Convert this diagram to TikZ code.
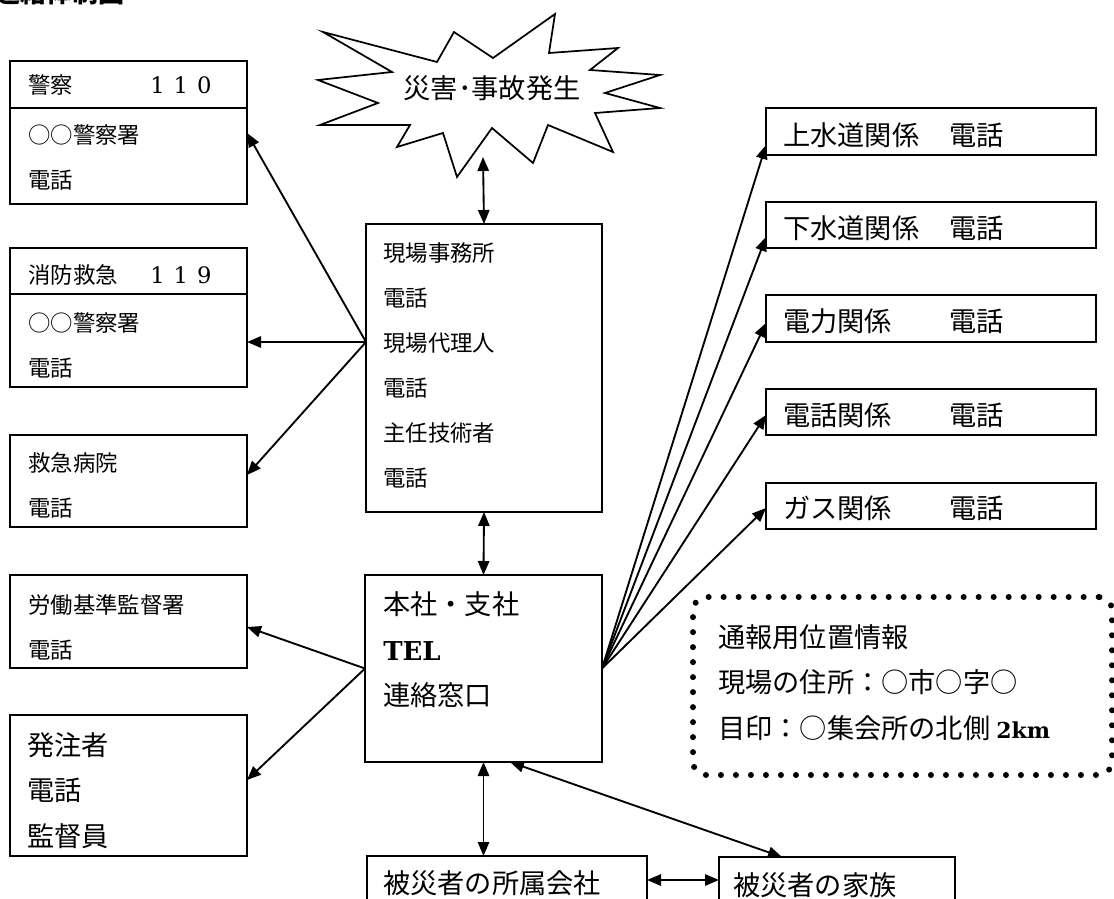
\documentclass[tikz,border=0pt]{standalone}
\usepackage{fontspec}
\usetikzlibrary{arrows.meta}
\newfontfamily\jp{Noto Sans CJK JP}
\newfontfamily\ser{DejaVu Serif}
\newlength\pxl \setlength\pxl{0.75pt}
\newcommand\jpS{\jp\fontsize{16.8pt}{33.75pt}\selectfont}
\newcommand\jpL{\jp\fontsize{20.4pt}{34.2pt}\selectfont}
\newcommand\digs[3]{{\ser\fontsize{17pt}{33.75pt}\selectfont #1\hspace{9\pxl}#2\hspace{9\pxl}#3}}
\begin{document}
\begin{tikzpicture}[x=0.75pt, y=-0.75pt,
  box/.style={draw, line width=1.5pt, anchor=north west, inner sep=0pt, outer sep=0pt},
  txt/.style={anchor=west, inner sep=0pt, align=left},
  arr/.style={-{Triangle[length=10.5pt,width=8.5pt]}, line width=1.4pt},
  darr/.style={{Triangle[length=10.5pt,width=8.5pt]}-{Triangle[length=10.5pt,width=8.5pt]}, line width=1.4pt},
  dots/.style={draw, line width=4.5pt, line cap=round, dash pattern=on 0pt off 11.25pt, rounded corners=10pt, anchor=north west, inner sep=0pt, outer sep=0pt}]
\useasboundingbox (0,0) rectangle (1114,899);
\clip (0,0) rectangle (1114,899);

% title (cut off at the top, as in the original)
\node[anchor=base west, inner sep=0pt] (title) at (-6,3) {\jp\bfseries\fontsize{19.5pt}{20pt}\selectfont 連絡体制図};

% star
\draw[line width=1.3pt, line join=miter] (323,32) -- (437,62) -- (454,32) -- (493,58) -- (555,14) -- (549,53)
  -- (618,48) -- (590,70) -- (660,75) -- (605,93) -- (660,108) -- (595,113) -- (613,152)
  -- (548,125) -- (533,163) -- (492,128) -- (457,177) -- (443,133) -- (397,147) -- (410,125)
  -- (320,125) -- (378,103) -- (318,80) -- (392,72) -- cycle;
\node[inner sep=0pt] (disaster) at (492,88) {\jpL 災害･事故発生};
\coordinate (starB) at (483,157);

% left boxes
\node[box, minimum width=237\pxl, minimum height=47\pxl] (policeH) at (10,61) {};
\node[box, minimum width=237\pxl, minimum height=96\pxl] (policeB) at (10,108) {};
\node[txt, font=\jpS] (policeHt) at (28,85) {\makebox[122\pxl][l]{警察}\digs110};
\node[txt, font=\jpS] (policeBt) at (28,157.5) {○○警察署\\電話};

\node[box, minimum width=237\pxl, minimum height=46\pxl] (shoboH) at (10,248) {};
\node[box, minimum width=237\pxl, minimum height=93\pxl] (shoboB) at (10,294) {};
\node[txt, font=\jpS] (shoboHt) at (28,275) {\makebox[122\pxl][l]{消防救急}\digs119};
\node[txt, font=\jpS] (shoboBt) at (28,345.5) {○○警察署\\電話};

\node[box, minimum width=237\pxl, minimum height=92\pxl] (kyukyu) at (10,435) {};
\node[txt, font=\jpS] (kyukyut) at (28,485.5) {救急病院\\電話};

\node[box, minimum width=237\pxl, minimum height=93\pxl] (roudou) at (10,575) {};
\node[txt, font=\jpS] (roudout) at (28,627.5) {労働基準監督署\\電話};

\node[box, minimum width=237\pxl, minimum height=141\pxl] (hatchu) at (10,715) {};
\node[txt, font=\jpL] (hatchut) at (27,790.5) {発注者\\電話\\監督員};

% centre boxes
\node[box, minimum width=236\pxl, minimum height=288\pxl] (genba) at (366,224) {};
\node[txt, font=\jpS] (genbat) at (383,365) {現場事務所\\電話\\現場代理人\\電話\\主任技術者\\電話};

\node[box, minimum width=237\pxl, minimum height=187\pxl] (honsha) at (365,575) {};
\node[txt, font=\jpL] (honshat) at (383,650) {本社・支社\\{\ser\bfseries\fontsize{19.5pt}{34.2pt}\selectfont TEL}\\連絡窓口};

\node[box, minimum width=280\pxl, minimum height=60\pxl] (shozoku) at (367,856) {};
\node[txt, font=\jpL] (shozokut) at (383,883) {被災者の所属会社};

\node[box, minimum width=236\pxl, minimum height=60\pxl] (kazoku) at (719,857) {};
\node[txt, font=\jpL] (kazokut) at (733,885) {被災者の家族};

% right boxes
\node[box, minimum width=330\pxl, minimum height=47\pxl] (josui) at (766,108) {};
\node[txt, font=\jpL] (josuit) at (783,135) {\makebox[166\pxl][l]{上水道関係}電話};
\node[box, minimum width=330\pxl, minimum height=46\pxl] (gesui) at (766,202) {};
\node[txt, font=\jpL] (gesuit) at (783,228.5) {\makebox[166\pxl][l]{下水道関係}電話};
\node[box, minimum width=330\pxl, minimum height=47\pxl] (denryoku) at (766,295) {};
\node[txt, font=\jpL] (denryokut) at (783,321.5) {\makebox[166\pxl][l]{電力関係}電話};
\node[box, minimum width=330\pxl, minimum height=46\pxl] (denwa) at (766,389) {};
\node[txt, font=\jpL] (denwat) at (783,415) {\makebox[166\pxl][l]{電話関係}電話};
\node[box, minimum width=330\pxl, minimum height=46\pxl] (gas) at (766,483) {};
\node[txt, font=\jpL] (gast) at (783,508) {\makebox[166\pxl][l]{ガス関係}電話};

% dotted information box
\node[dots, minimum width=419\pxl, minimum height=178\pxl] (info) at (693,597) {};
\node[txt, font=\jpL] (infot) at (718,682.5) {通報用位置情報\\現場の住所：○市○字○\\目印：○集会所の北側 {\ser\bfseries\fontsize{16.5pt}{34.2pt}\selectfont 2km}};

% connectors
\coordinate (gL) at ([yshift=26\pxl]genba.west);
\draw[arr] (gL) -- ([yshift=23\pxl]policeB.east);
\draw[arr] (gL) -- (gL -| shoboB.east);
\draw[arr] (gL) -- ([yshift=6\pxl]kyukyu.east);
\draw[darr] (starB) -- (genba.north);
\draw[darr] (genba.south) -- (honsha.north);
\draw[arr] (honsha.west) -- ([yshift=-5.5\pxl]roudou.east);
\draw[arr] (honsha.west) -- ([yshift=5.5\pxl]hatchu.east);
\draw[arr] (honsha.east) -- ([yshift=-13.5\pxl]josui.west);
\draw[arr] (honsha.east) -- ([yshift=-12\pxl]gesui.west);
\draw[arr] (honsha.east) -- ([yshift=-4.5\pxl]denryoku.west);
\draw[arr] (honsha.east) -- ([yshift=-3\pxl]denwa.west);
\draw[arr] (honsha.east) -- ([yshift=-2\pxl]gas.west);
\draw[darr] (honsha.south) -- (honsha.south |- shozoku.north);
\coordinate (sE) at ([yshift=6\pxl]shozoku.east);
\draw[darr] (sE) -- (sE -| kazoku.west);
\draw[darr] ([xshift=-55\pxl]kazoku.north) -- ([xshift=26.5\pxl]honsha.south);
\end{tikzpicture}
\end{document}
